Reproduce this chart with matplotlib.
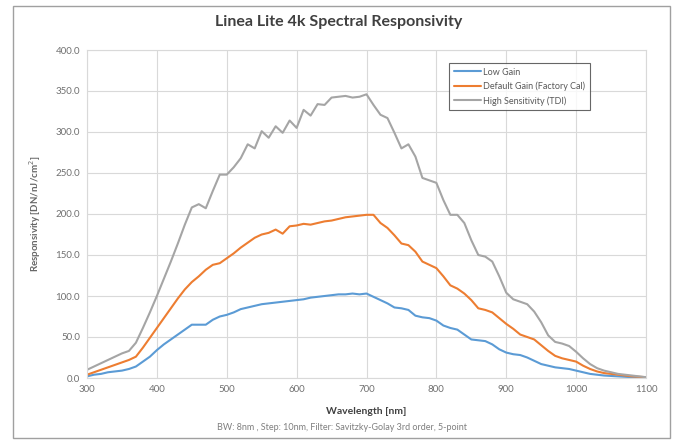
import numpy as np
import matplotlib
matplotlib.use("Agg")
import matplotlib.pyplot as plt
from matplotlib.patches import Rectangle

plt.rcParams['font.family'] = ['Lato', 'DejaVu Sans']

# wavelength grid, 10 nm steps
wavelength = list(range(300, 1101, 10))

low_gain = [2, 4, 5, 7, 8, 9, 11, 14, 20, 26,
            34, 41, 47, 53, 59, 65, 65, 65, 71, 75,
            77, 80, 84, 86, 88, 90, 91, 92, 93, 94,
            95, 96, 98, 99, 100, 101, 102, 102, 103, 102,
            103, 99, 95, 91, 86, 85, 83, 76, 74, 73,
            70, 64, 61, 59, 53, 47, 46, 45, 41, 35,
            31, 29, 28, 25, 21, 17, 15, 13, 12, 11,
            9, 7, 5, 4, 3, 2.5, 2, 1.5, 1, 0.8, 0.5]

default_gain = [4, 7, 10, 13, 16, 19, 22, 26, 37, 49,
                61, 73, 85, 97, 108, 117, 124, 132, 138, 140,
                146, 152, 159, 165, 171, 175, 177, 181, 176, 185,
                186, 188, 187, 189, 191, 192, 194, 196, 197, 198,
                199, 199, 189, 183, 174, 164, 162, 154, 142, 138,
                134, 124, 113, 109, 103, 95, 85, 83, 80, 73,
                66, 60, 53, 50, 47, 40, 33, 27, 24, 22,
                20, 15, 11, 8, 6, 5, 4, 3, 2, 1.5, 1]

high_sens = [10, 14, 18, 22, 26, 30, 33, 43, 61, 80,
             100, 121, 142, 164, 187, 208, 212, 207, 228, 248,
             248, 257, 268, 285, 280, 301, 293, 307, 299, 314,
             305, 327, 320, 334, 333, 342, 343, 344, 342, 343,
             346, 333, 321, 317, 299, 280, 285, 270, 244, 241,
             238, 217, 199, 199, 189, 168, 150, 148, 142, 124,
             104, 96, 93, 90, 81, 68, 52, 44, 42, 39,
             32, 24, 17, 12, 9, 7, 5, 4, 3, 2, 1]

labels = ["Low Gain", "Default Gain (Factory Cal)", "High Sensitivity (TDI)"]
colors = ["#5B9BD5", "#ED7D31", "#A5A5A5"]

W, H = 678, 441
fig = plt.figure(figsize=(W / 100, H / 100), dpi=100)
ax = fig.add_axes([87 / W, 1 - 378 / H, (646 - 87) / W, (378 - 50) / H])

for y, lab, c in zip([low_gain, default_gain, high_sens], labels, colors):
    ax.plot(wavelength, y, color=c, lw=1.5, label=lab,
            solid_joinstyle="round", solid_capstyle="round")

ax.set_xlim(300, 1100)
ax.set_ylim(0, 400)
ax.set_xticks(range(300, 1101, 100))
ax.set_yticks(range(0, 401, 50))
ax.set_yticklabels([f"{v:.1f}" for v in range(0, 401, 50)])
ax.grid(True, color="#D9D9D9", lw=0.8)
ax.set_axisbelow(True)
for s in ax.spines.values():
    s.set_color("#D9D9D9")
    s.set_linewidth(0.8)
ax.tick_params(length=0, labelsize=7, colors="#707070", pad=5)

leg = ax.legend(loc="upper left", bbox_to_anchor=(449 / W, 1 - 63 / H),
                bbox_transform=fig.transFigure, borderaxespad=0,
                fancybox=False, edgecolor="#404040", fontsize=6.5,
                handlelength=3.0, handletextpad=0.3, labelspacing=0.55,
                borderpad=0.5)
leg.get_frame().set_linewidth(0.8)
for t in leg.get_texts():
    t.set_color("#595959")

fig.text(339 / W, 1 - 22 / H, "Linea Lite 4k Spectral Responsivity",
         ha="center", va="center", fontsize=11.5, fontweight="bold", color="#404040")
fig.text(35 / W, 1 - 214 / H, "Responsivity [DN/nJ/cm$^2$]", rotation=90,
         ha="center", va="center", fontsize=7, fontweight="bold", color="#666666")
fig.text(366 / W, 1 - 411 / H, "Wavelength [nm]", ha="center", va="center",
         fontsize=7.5, fontweight="bold", color="#404040")
fig.text(342 / W, 1 - 427 / H,
         "BW: 8nm , Step: 10nm, Filter: Savitzky-Golay 3rd order, 5-point",
         ha="center", va="center", fontsize=6.5, color="#7F7F7F")

# chart border
fig.patches.append(Rectangle((13 / W, 1 - 438 / H), (670 - 13) / W, (438 - 6) / H,
                             transform=fig.transFigure, fill=False,
                             edgecolor="#A0A0A0", lw=1.0))

fig.savefig("out.png", dpi=100)
